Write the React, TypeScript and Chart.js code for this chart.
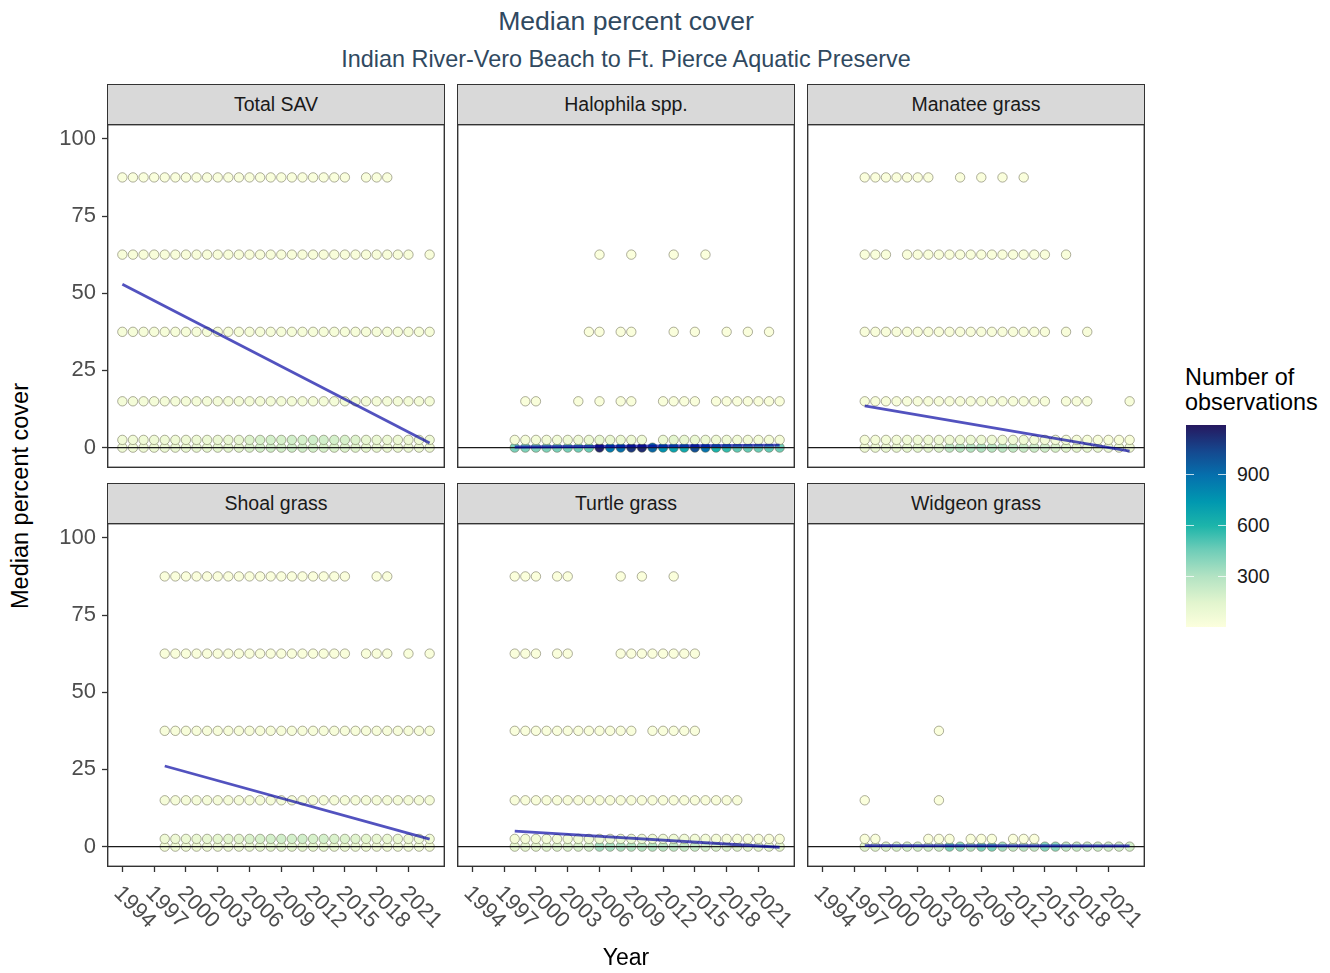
import React, { useEffect, useRef } from "react";
import { Chart, registerables } from "chart.js";

Chart.register(...registerables);

const FONT = '"Liberation Sans", Arial, Helvetica, sans-serif';

// ---- data -------------------------------------------------------------

const span = (a: number, b: number) => Array.from({ length: b - a + 1 }, (_, i) => a + i);
const without = (ys: number[], skip: number[]) => ys.filter((y) => !skip.includes(y));

// Braun-Blanquet cover midpoints, one row of points per level
const coverLevels = [0, 2.5, 15, 37.5, 62.5, 87.5];
const yTickValues = [0, 25, 50, 75, 100];
const yearTicks = [1994, 1997, 2000, 2003, 2006, 2009, 2012, 2015, 2018, 2021];
const countTicks = [300, 600, 900];

// Total SAV
const totalSavYears = [
  span(1994, 2023),
  span(1994, 2023),
  span(1994, 2023),
  span(1994, 2023),
  without(span(1994, 2023), [2022]),
  without(span(1994, 2019), [2016]),
];
const totalSavZero = [70, 75, 80, 85, 90, 95, 100, 110, 115, 120, 130, 140, 170, 190, 200, 190, 210, 200, 190, 180, 170, 160, 150, 120, 110, 100, 95, 90, 85, 80];
const totalSavLow = [60, 60, 65, 70, 70, 75, 80, 85, 90, 95, 100, 110, 160, 180, 190, 180, 200, 190, 210, 200, 190, 180, 160, 110, 100, 90, 85, 80, 75, 70];
const totalSavCounts = [totalSavZero, totalSavLow, 45, 35, 25, 15];
const totalSavTrend = [[1994, 52.9], [2023, 1.5]];

// Halophila spp.
const halophilaYears = [
  span(1998, 2023),
  without(span(1998, 2023), [2011]),
  [1999, 2000, 2004, 2006, 2008, 2009, 2012, 2013, 2014, 2015, 2017, 2018, 2019, 2020, 2021, 2022, 2023],
  [2005, 2006, 2008, 2009, 2013, 2015, 2018, 2020, 2022],
  [2006, 2009, 2013, 2016],
  [],
];
const halophilaZero = [430, 420, 410, 420, 430, 440, 450, 460, 1150, 860, 900, 1090, 1130, 930, 770, 690, 660, 1010, 880, 610, 560, 480, 470, 460, 470, 450];
const halophilaLow = [40, 45, 50, 55, 60, 70, 80, 90, 110, 100, 90, 80, 70, 90, 140, 110, 100, 90, 80, 70, 60, 55, 50, 45, 40];
const halophilaCounts = [halophilaZero, halophilaLow, 20, 10, 5, 5];
const halophilaTrend = [[1998, 0.2], [2023, 0.8]];

// Manatee grass
const manateeYears = [
  span(1998, 2023),
  span(1998, 2023),
  [...span(1998, 2015), 2017, 2018, 2019, 2023],
  [...span(1998, 2015), 2017, 2019],
  [1998, 1999, 2000, ...span(2002, 2015), 2017],
  [...span(1998, 2004), 2007, 2009, 2011, 2013],
];
const manateeZero = [80, 90, 100, 110, 120, 130, 140, 160, 260, 280, 290, 300, 280, 270, 250, 230, 220, 210, 180, 150, 130, 120, 110, 100, 90, 80];
const manateeLow = [40, 45, 50, 55, 60, 60, 65, 70, 80, 85, 90, 85, 80, 75, 70, 65, 60, 55, 50, 45, 40, 35, 30, 30, 25, 25];
const manateeCounts = [manateeZero, manateeLow, 30, 25, 20, 12];
const manateeTrend = [[1998, 13.5], [2023, -1.1]];

// Shoal grass
const shoalYears = [
  span(1998, 2023),
  span(1998, 2023),
  span(1998, 2023),
  span(1998, 2023),
  [...span(1998, 2015), 2017, 2018, 2019, 2021, 2023],
  [...span(1998, 2015), 2018, 2019],
];
const shoalZero = [60, 65, 70, 75, 80, 85, 90, 95, 110, 120, 130, 140, 130, 120, 120, 110, 100, 95, 90, 85, 80, 75, 70, 65, 60, 55];
const shoalLow = [70, 80, 90, 100, 110, 120, 130, 140, 170, 180, 190, 200, 190, 200, 180, 190, 170, 160, 150, 130, 110, 100, 90, 80, 70, 60];
const shoalCounts = [shoalZero, shoalLow, 40, 30, 20, 12];
const shoalTrend = [[1998, 26.1], [2023, 2.4]];

// Turtle grass
const turtleYears = [
  span(1998, 2023),
  span(1998, 2023),
  span(1998, 2019),
  [...span(1998, 2009), ...span(2011, 2015)],
  [1998, 1999, 2000, 2002, 2003, ...span(2008, 2015)],
  [1998, 1999, 2000, 2002, 2003, 2008, 2010, 2013],
];
const turtleZero = [120, 130, 140, 150, 160, 170, 180, 200, 330, 320, 310, 300, 290, 300, 280, 270, 250, 240, 200, 180, 170, 160, 150, 140, 130, 120];
const turtleLow = [40, 45, 50, 50, 55, 60, 65, 70, 80, 85, 90, 85, 80, 75, 70, 65, 60, 55, 50, 45, 40, 35, 30, 30, 25, 25];
const turtleCounts = [turtleZero, turtleLow, 25, 15, 10, 8];
const turtleTrend = [[1998, 5.0], [2023, -0.2]];

// Widgeon grass
const widgeonYears = [
  span(1998, 2023),
  [1998, 1999, 2004, 2005, 2006, 2008, 2009, 2010, 2012, 2013, 2014],
  [1998, 2005],
  [2005],
  [],
  [],
];
const widgeonZero = [150, 160, 170, 180, 190, 200, 210, 220, 420, 380, 300, 420, 430, 330, 250, 280, 260, 400, 390, 260, 240, 230, 220, 210, 200, 190];
const widgeonLow = [20, 15, 10, 15, 20, 15, 10, 15, 10, 10, 10];
const widgeonCounts = [widgeonZero, widgeonLow, 5, 5, 5, 5];
const widgeonTrend = [[1998, 0.35], [2023, 0.25]];

// ---- layout & style ---------------------------------------------------

const X_MIN = 1992.55;
const X_MAX = 2024.45;
const Y_MIN = -6.6;
const Y_MAX = 104.8;
const COUNT_MIN = 1;
const COUNT_MAX = 1190;

const COL_LEFT = [107, 457, 807];
const PANEL_W = 338;
const PANEL_TOP = [124, 523];
const PANEL_H = 344;
const STRIP_H = 41;
const Y_AXIS_W = 60;
const X_AXIS_H = 80;

const TREND_COLOUR = "rgba(0, 0, 160, 0.68)";
const POINT_OUTLINE = "rgba(95, 95, 70, 0.5)";

// sequential yellow-green-blue ramp used for the observation counts
const colourStops: [number, string][] = [
  [0.0, "#FCFFDD"],
  [0.12, "#E2F5CE"],
  [0.25, "#B3E3C3"],
  [0.38, "#6FCDB8"],
  [0.5, "#1DB5AA"],
  [0.62, "#0098B0"],
  [0.75, "#0570AD"],
  [0.87, "#15488F"],
  [1.0, "#26185F"],
];

function hexRgb(h: string) {
  return [1, 3, 5].map((i) => parseInt(h.slice(i, i + 2), 16));
}

function countColour(n: number) {
  const t = Math.min(1, Math.max(0, (n - COUNT_MIN) / (COUNT_MAX - COUNT_MIN)));
  for (let i = 1; i < colourStops.length; i++) {
    const [t1, c1] = colourStops[i];
    const [t0, c0] = colourStops[i - 1];
    if (t <= t1) {
      const f = (t - t0) / (t1 - t0);
      const a = hexRgb(c0);
      const b = hexRgb(c1);
      const rgb = a.map((v, k) => Math.round(v + (b[k] - v) * f));
      return `rgb(${rgb[0]}, ${rgb[1]}, ${rgb[2]})`;
    }
  }
  return colourStops[colourStops.length - 1][1];
}

const gradientCss = `linear-gradient(to top, ${colourStops
  .map(([t, c]) => `${c} ${(t * 100).toFixed(1)}%`)
  .join(", ")})`;

// ---- panel ------------------------------------------------------------

type PanelProps = {
  name: string;
  years: number[][];
  counts: (number | number[])[];
  trend: number[][];
  col: number;
  row: number;
};

function Panel({ name, years, counts, trend, col, row }: PanelProps) {
  const ref = useRef<HTMLCanvasElement>(null);
  const showY = col === 0;
  const showX = row === 1;
  const width = PANEL_W + (showY ? Y_AXIS_W : 0);
  const height = PANEL_H + (showX ? X_AXIS_H : 0);
  const left = COL_LEFT[col] - (showY ? Y_AXIS_W : 0);
  const top = PANEL_TOP[row];

  useEffect(() => {
    if (!ref.current) return;
    const points: { x: number; y: number }[] = [];
    const fills: string[] = [];
    coverLevels.forEach((level, r) => {
      const c = counts[r];
      years[r].forEach((yr, i) => {
        const n = Array.isArray(c) ? c[i] : c;
        points.push({ x: yr, y: level });
        fills.push(countColour(n));
      });
    });

    const frame = {
      id: "panelFrame",
      afterDraw(chart: any) {
        const { ctx, chartArea } = chart;
        ctx.save();
        if (showX) {
          const xs = chart.scales.x;
          ctx.font = `22px ${FONT}`;
          ctx.fillStyle = "#4d4d4d";
          ctx.textAlign = "left";
          ctx.textBaseline = "middle";
          for (const yr of yearTicks) {
            ctx.save();
            ctx.translate(xs.getPixelForValue(yr) - 5, chartArea.bottom + 23);
            ctx.rotate(Math.PI / 4);
            ctx.fillText(String(yr), 0, 0);
            ctx.restore();
          }
        }
        ctx.strokeStyle = "#333333";
        ctx.lineWidth = 1.4;
        ctx.strokeRect(
          chartArea.left + 0.7,
          chartArea.top + 0.7,
          chartArea.right - chartArea.left - 1.4,
          chartArea.bottom - chartArea.top - 1.4
        );
        ctx.restore();
      },
    };

    const tickGrid = {
      display: true,
      drawOnChartArea: false,
      drawTicks: true,
      tickLength: 5,
      tickColor: "#333333",
      tickWidth: 1.3,
    };

    const chart = new Chart(ref.current, {
      type: "scatter",
      data: {
        datasets: [
          {
            type: "line",
            data: trend.map(([x, y]) => ({ x, y })),
            borderColor: TREND_COLOUR,
            borderWidth: 2.8,
            pointRadius: 0,
            order: 0,
          } as any,
          {
            type: "line",
            data: [
              { x: X_MIN, y: 0 },
              { x: X_MAX, y: 0 },
            ],
            borderColor: "#1a1a1a",
            borderWidth: 1.3,
            pointRadius: 0,
            order: 1,
          } as any,
          {
            data: points,
            pointBackgroundColor: fills,
            pointBorderColor: POINT_OUTLINE,
            pointBorderWidth: 1,
            pointRadius: 4.7,
            order: 2,
          },
        ],
      },
      options: {
        responsive: false,
        animation: false,
        events: [],
        layout: { padding: 0, autoPadding: false },
        plugins: { legend: { display: false }, tooltip: { enabled: false } },
        scales: {
          x: {
            type: "linear",
            min: X_MIN,
            max: X_MAX,
            display: showX,
            afterBuildTicks: (s: any) => {
              s.ticks = yearTicks.map((v) => ({ value: v }));
            },
            afterFit: (s: any) => {
              s.height = showX ? X_AXIS_H : 0;
              s.paddingLeft = 0;
              s.paddingRight = 0;
            },
            ticks: { display: false },
            grid: tickGrid,
            border: { display: false },
          },
          y: {
            type: "linear",
            min: Y_MIN,
            max: Y_MAX,
            display: showY,
            afterBuildTicks: (s: any) => {
              s.ticks = yTickValues.map((v) => ({ value: v }));
            },
            afterFit: (s: any) => {
              s.width = showY ? Y_AXIS_W : 0;
              s.paddingTop = 0;
              s.paddingBottom = 0;
            },
            ticks: {
              display: true,
              color: "#4d4d4d",
              font: { family: FONT, size: 22 },
              padding: 6,
            },
            grid: tickGrid,
            border: { display: false },
          },
        },
      },
      plugins: [frame],
    } as any);
    return () => chart.destroy();
  }, []);

  return (
    <>
      <canvas
        ref={ref}
        width={width}
        height={height}
        style={{ position: "absolute", left, top, width, height }}
      />
      <div
        style={{
          position: "absolute",
          left: COL_LEFT[col],
          top: PANEL_TOP[row] - STRIP_H + 1,
          width: PANEL_W,
          height: STRIP_H,
          boxSizing: "border-box",
          background: "#d9d9d9",
          border: "1.4px solid #333333",
          textAlign: "center",
          lineHeight: `${STRIP_H - 3}px`,
          fontFamily: FONT,
          fontSize: 19.5,
          color: "#1a1a1a",
        }}
      >
        {name}
      </div>
    </>
  );
}

// ---- colour bar -------------------------------------------------------

const BAR_LEFT = 1186;
const BAR_TOP = 425;
const BAR_W = 40;
const BAR_H = 202;

function ColourBar() {
  const pos = (v: number) => BAR_TOP + BAR_H - ((v - COUNT_MIN) / (COUNT_MAX - COUNT_MIN)) * BAR_H;
  return (
    <>
      <div
        style={{
          position: "absolute",
          left: 1185,
          top: 365,
          fontFamily: FONT,
          fontSize: 23.4,
          lineHeight: "25px",
          color: "#000",
          whiteSpace: "nowrap",
        }}
      >
        Number of
        <br />
        observations
      </div>
      <div
        style={{
          position: "absolute",
          left: BAR_LEFT,
          top: BAR_TOP,
          width: BAR_W,
          height: BAR_H,
          background: gradientCss,
        }}
      />
      {countTicks.map((v) => (
        <React.Fragment key={v}>
          <div
            style={{
              position: "absolute",
              left: BAR_LEFT,
              top: pos(v) - 0.5,
              width: 8,
              height: 1,
              background: "rgba(255,255,255,0.75)",
            }}
          />
          <div
            style={{
              position: "absolute",
              left: BAR_LEFT + BAR_W - 8,
              top: pos(v) - 0.5,
              width: 8,
              height: 1,
              background: "rgba(255,255,255,0.75)",
            }}
          />
          <div
            style={{
              position: "absolute",
              left: 1237,
              top: pos(v) - 12,
              height: 24,
              lineHeight: "24px",
              fontFamily: FONT,
              fontSize: 19.5,
              color: "#1a1a1a",
            }}
          >
            {v}
          </div>
        </React.Fragment>
      ))}
    </>
  );
}

// ---- page -------------------------------------------------------------

export default function App() {
  const centre = (COL_LEFT[0] + COL_LEFT[2] + PANEL_W) / 2;
  return (
    <div
      style={{
        position: "absolute",
        left: 0,
        top: 0,
        width: 1330,
        height: 973,
        overflow: "hidden",
        background: "#ffffff",
        fontFamily: FONT,
      }}
    >
      <div
        style={{
          position: "absolute",
          left: centre - 400,
          width: 800,
          top: 5,
          textAlign: "center",
          fontSize: 26.6,
          lineHeight: "32px",
          color: "#30495f",
        }}
      >
        Median percent cover
      </div>
      <div
        style={{
          position: "absolute",
          left: centre - 400,
          width: 800,
          top: 45,
          textAlign: "center",
          fontSize: 23.4,
          lineHeight: "28px",
          color: "#30495f",
        }}
      >
        Indian River-Vero Beach to Ft. Pierce Aquatic Preserve
      </div>

      <Panel name="Total SAV" years={totalSavYears} counts={totalSavCounts} trend={totalSavTrend} col={0} row={0} />
      <Panel name="Halophila spp." years={halophilaYears} counts={halophilaCounts} trend={halophilaTrend} col={1} row={0} />
      <Panel name="Manatee grass" years={manateeYears} counts={manateeCounts} trend={manateeTrend} col={2} row={0} />
      <Panel name="Shoal grass" years={shoalYears} counts={shoalCounts} trend={shoalTrend} col={0} row={1} />
      <Panel name="Turtle grass" years={turtleYears} counts={turtleCounts} trend={turtleTrend} col={1} row={1} />
      <Panel name="Widgeon grass" years={widgeonYears} counts={widgeonCounts} trend={widgeonTrend} col={2} row={1} />

      <div
        style={{
          position: "absolute",
          left: 20 - 150,
          top: 496 - 14,
          width: 300,
          height: 28,
          lineHeight: "28px",
          textAlign: "center",
          transform: "rotate(-90deg)",
          fontSize: 23.5,
          color: "#000",
        }}
      >
        Median percent cover
      </div>
      <div
        style={{
          position: "absolute",
          left: centre - 100,
          width: 200,
          top: 943,
          lineHeight: "28px",
          textAlign: "center",
          fontSize: 23,
          color: "#000",
        }}
      >
        Year
      </div>

      <ColourBar />
    </div>
  );
}
